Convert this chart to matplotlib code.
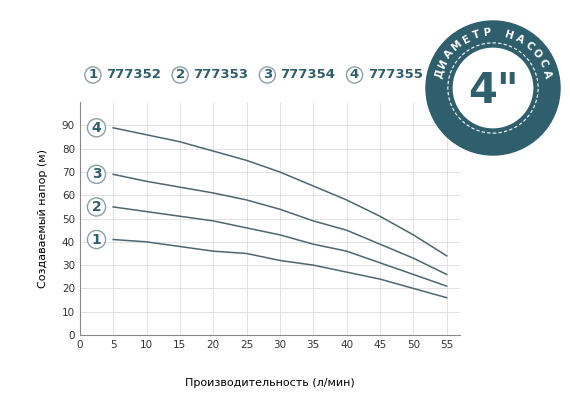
import matplotlib.pyplot as plt
import numpy as np
from matplotlib.patches import Circle

flow = [5, 10, 15, 20, 25, 30, 35, 40, 45, 50, 55]
head_1 = [41, 40, 38, 36, 35, 32, 30, 27, 24, 20, 16]
head_2 = [55, 53, 51, 49, 46, 43, 39, 36, 31, 26, 21]
head_3 = [69, 66, 63.5, 61, 58, 54, 49, 45, 39, 33, 26]
head_4 = [89, 86, 83, 79, 75, 70, 64, 58, 51, 43, 34]
models = ["777352", "777353", "777354", "777355"]

TEAL = "#2f5f6d"
LINE = "#4d6670"

fig = plt.figure(figsize=(5.7, 4.12), dpi=100)
ax = fig.add_axes([0.14, 0.187, 0.667, 0.565])

for idx, head in enumerate([head_1, head_2, head_3, head_4], start=1):
    ax.plot(flow, head, color=LINE, lw=1.1)
    ax.annotate(str(idx), (flow[0], head[0]), xytext=(-12, 0), textcoords="offset points",
                ha="center", va="center", fontsize=10, fontweight="bold", color=TEAL,
                bbox=dict(boxstyle="circle,pad=0.15", fc="white", ec="#8aa0a8", lw=1))

ax.set_xlim(0, 57)
ax.set_ylim(0, 100)
ax.set_xticks(range(0, 60, 5))
ax.set_yticks(range(0, 100, 10))
ax.grid(color="#e3e3e3", lw=0.7)
ax.tick_params(length=0, labelsize=7.5, colors="#333333")
for side in ["top", "right"]:
    ax.spines[side].set_visible(False)
for side in ["left", "bottom"]:
    ax.spines[side].set_color("#888888")
ax.set_xlabel("Производительность (л/мин)", fontsize=8, labelpad=20)
ax.set_ylabel("Создаваемый напор (м)", fontsize=8, labelpad=10)

# legend row
for i, name in enumerate(models):
    x = 0.163 + i * 0.153
    fig.text(x, 0.818, str(i + 1), ha="center", va="center", fontsize=9.5, fontweight="bold",
             color=TEAL, bbox=dict(boxstyle="circle,pad=0.12", fc="white", ec="#8aa0a8", lw=1))
    fig.text(x + 0.023, 0.818, name, ha="left", va="center", fontsize=9.5,
             fontweight="bold", color=TEAL)

# badge
bx = fig.add_axes([493 / 570 - 0.12, 1 - 88 / 412 - 0.166, 0.24, 0.332])
bx.set_xlim(-1, 1)
bx.set_ylim(-1, 1)
bx.set_aspect("equal")
bx.axis("off")
bx.add_patch(Circle((0, 0), 0.98, color=TEAL))
bx.add_patch(Circle((0, 0), 0.58, color="white"))
bx.add_patch(Circle((0, 0), 0.66, fill=False, ec="white", lw=0.8, ls=(0, (3, 2))))
bx.text(0, -0.05, '4"', ha="center", va="center", fontsize=30, fontweight="bold", color=TEAL)
label = "ДИАМЕТР НАСОСА"
angles = np.linspace(165, 15, len(label))
for ch, a in zip(label, angles):
    r = 0.81
    bx.text(r * np.cos(np.radians(a)), r * np.sin(np.radians(a)), ch, ha="center", va="center",
            rotation=a - 90, fontsize=7.5, fontweight="bold", color="white")

fig.savefig("out.png", dpi=100)
